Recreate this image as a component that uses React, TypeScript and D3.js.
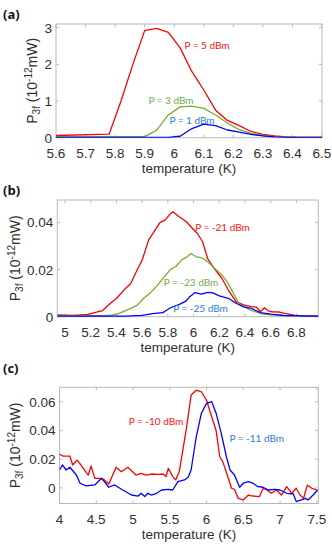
import React from "react";
import * as d3 from "d3";

// ---------- Panel (a) ----------
const aXTicks = [5.6, 5.7, 5.8, 5.9, 6.0, 6.1, 6.2, 6.3, 6.4, 6.5];
const aYTicks = [0, 1, 2, 3];
const aRedT = [5.6, 5.78, 5.82, 5.86, 5.9, 5.94, 5.98, 6.02, 6.06, 6.1, 6.14, 6.18, 6.22, 6.26, 6.3, 6.34, 6.38, 6.42, 6.46, 6.5];
const aRedP = [0.06, 0.1, 1.0, 2.0, 2.92, 2.98, 2.87, 2.45, 1.8, 1.3, 0.75, 0.47, 0.33, 0.17, 0.09, 0.05, 0.02, 0.01, 0.01, 0.01];
const aGreenT = [5.6, 5.9, 5.94, 5.98, 6.02, 6.06, 6.1, 6.14, 6.18, 6.22, 6.26, 6.3, 6.34, 6.38, 6.42, 6.5];
const aGreenP = [0.03, 0.03, 0.2, 0.62, 0.84, 0.86, 0.8, 0.62, 0.4, 0.22, 0.12, 0.06, 0.03, 0.02, 0.01, 0.01];
const aBlueT = [5.6, 5.98, 6.02, 6.06, 6.1, 6.14, 6.18, 6.22, 6.26, 6.3, 6.34, 6.38, 6.42, 6.5];
const aBlueP = [0.01, 0.01, 0.04, 0.25, 0.37, 0.33, 0.21, 0.15, 0.09, 0.05, 0.02, 0.01, 0.01, 0.01];

// ---------- Panel (b) ----------
const bXTicks = [5, 5.2, 5.4, 5.6, 5.8, 6.0, 6.2, 6.4, 6.6, 6.8];
const bYTicks = [0, 0.02, 0.04];
const bRedT = [4.94, 5.07, 5.18, 5.26, 5.29, 5.36, 5.4, 5.47, 5.51, 5.56, 5.6, 5.65, 5.7, 5.74, 5.78, 5.82, 5.84, 5.88, 5.94, 5.99, 6.03, 6.07, 6.11, 6.16, 6.22, 6.27, 6.33, 6.39, 6.45, 6.49, 6.52, 6.55, 6.58, 6.61, 6.66, 6.7, 6.78, 6.85, 6.97];
const bRedP = [0.0008, 0.0006, 0.001, 0.0022, 0.0025, 0.006, 0.0077, 0.012, 0.014, 0.0197, 0.024, 0.0325, 0.0367, 0.04, 0.0411, 0.0437, 0.0445, 0.0427, 0.0405, 0.0375, 0.0353, 0.0318, 0.0245, 0.0205, 0.0163, 0.0113, 0.0064, 0.005, 0.0043, 0.004, 0.0021, 0.0038, 0.0025, 0.0021, 0.002, 0.0015, 0.0007, 0.0003, 0.0002];
const bGreenT = [4.94, 5.2, 5.34, 5.41, 5.49, 5.56, 5.61, 5.66, 5.72, 5.77, 5.82, 5.86, 5.91, 5.95, 5.98, 6.02, 6.06, 6.11, 6.15, 6.22, 6.27, 6.31, 6.35, 6.44, 6.54, 6.7, 6.97];
const bGreenP = [0.0003, 0.0003, 0.0005, 0.0012, 0.003, 0.0048, 0.0077, 0.0099, 0.0134, 0.0167, 0.0201, 0.0212, 0.0242, 0.0254, 0.0268, 0.0254, 0.0251, 0.0233, 0.0212, 0.0177, 0.0141, 0.0099, 0.0057, 0.0028, 0.0011, 0.0005, 0.0002];
const bBlueT = [4.94, 5.3, 5.47, 5.6, 5.68, 5.76, 5.82, 5.89, 5.94, 5.97, 6.01, 6.06, 6.11, 6.15, 6.2, 6.27, 6.33, 6.39, 6.45, 6.52, 6.6, 6.7, 6.97];
const bBlueP = [0.0002, 0.0002, 0.0002, 0.0006, 0.0013, 0.0017, 0.0038, 0.0052, 0.0066, 0.0085, 0.0102, 0.0096, 0.0103, 0.0101, 0.0088, 0.0078, 0.0057, 0.0042, 0.0035, 0.0017, 0.0011, 0.0005, 0.0002];

// ---------- Panel (c) ----------
const cXTicks = [4, 4.5, 5, 5.5, 6, 6.5, 7, 7.5];
const cYTicks = [0, 0.02, 0.04, 0.06];
const cRedT = [4.0, 4.045, 4.14, 4.18, 4.24, 4.3, 4.39, 4.43, 4.48, 4.57, 4.61, 4.67, 4.77, 4.84, 4.93, 5.04, 5.11, 5.18, 5.25, 5.34, 5.41, 5.45, 5.48, 5.54, 5.58, 5.63, 5.73, 5.79, 5.86, 5.93, 6.0, 6.07, 6.13, 6.18, 6.22, 6.29, 6.34, 6.38, 6.43, 6.5, 6.57, 6.63, 6.72, 6.77, 6.82, 6.88, 6.95, 7.02, 7.09, 7.16, 7.22, 7.27, 7.32, 7.37, 7.43, 7.5];
const cRedP = [0.0236, 0.0222, 0.0222, 0.016, 0.0194, 0.0153, 0.009, 0.0153, 0.0067, 0.0067, 0.0056, 0.0028, 0.0144, 0.0113, 0.0144, 0.009, 0.0102, 0.009, 0.0097, 0.0095, 0.0097, 0.0079, 0.0137, 0.0079, 0.0056, 0.0115, 0.0426, 0.0646, 0.068, 0.0669, 0.061, 0.0495, 0.04, 0.0217, 0.0183, 0.0078, -0.0002, -0.0009, -0.0072, -0.0083, -0.0049, -0.0056, -0.006, -0.0002, -0.0014, -0.0037, -0.0014, -0.0049, 0.0009, -0.0037, -0.0002, -0.0049, -0.0072, 0.002, -0.0002, -0.0014];
const cBlueT = [4.0, 4.04, 4.09, 4.14, 4.23, 4.28, 4.36, 4.48, 4.57, 4.61, 4.67, 4.75, 4.86, 4.98, 5.07, 5.11, 5.16, 5.2, 5.25, 5.32, 5.39, 5.48, 5.54, 5.61, 5.7, 5.75, 5.79, 5.86, 5.93, 6.0, 6.07, 6.13, 6.2, 6.27, 6.32, 6.38, 6.45, 6.5, 6.57, 6.63, 6.7, 6.77, 6.84, 6.93, 7.0, 7.09, 7.18, 7.22, 7.29, 7.34, 7.38, 7.45, 7.51];
const cBlueP = [0.0125, 0.016, 0.0125, 0.0144, 0.009, 0.0033, 0.0014, 0.0021, 0.0067, 0.0044, 0.0005, 0.0021, -0.0014, -0.0049, -0.0056, -0.0037, -0.006, -0.0037, -0.0049, -0.0037, -0.0014, -0.001, -0.0014, 0.0044, 0.0056, 0.0075, 0.0125, 0.0356, 0.052, 0.0588, 0.06, 0.052, 0.038, 0.0217, 0.0125, 0.009, 0.0005, 0.0033, 0.0044, 0.0033, 0.0009, 0.0005, -0.0014, -0.001, -0.0014, -0.0037, -0.0042, -0.0095, -0.0083, -0.0072, -0.0083, -0.0049, -0.0014];

const RED = "#ff0000";
const GREEN = "#77ac30";
const BLUE = "#0000ff";
const RED_LBL = "#ff1010";
const GREEN_LBL = "#70ad47";
const BLUE_LBL = "#2a7ad5";

const AXIS_FONT = "'Liberation Sans', Arial, sans-serif";
const LBL_FONT = "Lato, 'Open Sans', sans-serif";
const TXT = "#303030";
const BOX = "#b8b8b8";

type Series = { t: number[]; p: number[]; color: string };
type Lbl = { text: string; x: number; y: number; color: string };

type PanelProps = {
  tag: string;
  tagY: number;
  left: number;
  right: number;
  top: number;
  bottom: number;
  xDomain: [number, number];
  yDomain: [number, number];
  xTicks: number[];
  yTicks: number[];
  series: Series[];
  labels: Lbl[];
  yLabelX: number;
};

function fmt(v: number) {
  return String(+v.toFixed(3));
}

function Panel(p: PanelProps) {
  const x = d3.scaleLinear().domain(p.xDomain).range([p.left, p.right]);
  const y = d3.scaleLinear().domain(p.yDomain).range([p.bottom, p.top]);
  const tl = 3;
  const cy = (p.top + p.bottom) / 2;
  const clipId = "clip-" + p.tag;
  return (
    <g>
      <text x={3} y={p.tagY} fontFamily="'Open Sans', Lato, sans-serif" fontWeight="bold" fontSize={13} fill="#111">
        {"(" + p.tag + ")"}
      </text>
      <defs>
        <clipPath id={clipId}>
          <rect x={p.left} y={p.top} width={p.right - p.left} height={p.bottom - p.top} />
        </clipPath>
      </defs>
      <rect x={p.left} y={p.top} width={p.right - p.left} height={p.bottom - p.top} fill="white" stroke={BOX} strokeWidth={1} />
      {p.xTicks.map((t) => (
        <g key={"x" + t}>
          <line x1={x(t)} x2={x(t)} y1={p.bottom} y2={p.bottom - tl} stroke={BOX} />
          <line x1={x(t)} x2={x(t)} y1={p.top} y2={p.top + tl} stroke={BOX} />
          <text x={x(t)} y={p.bottom + 20} textAnchor="middle" fontFamily={AXIS_FONT} fontSize={13.5} fill={TXT}>
            {fmt(t)}
          </text>
        </g>
      ))}
      {p.yTicks.map((t) => (
        <g key={"y" + t}>
          <line x1={p.left} x2={p.left + tl} y1={y(t)} y2={y(t)} stroke={BOX} />
          <line x1={p.right} x2={p.right - tl} y1={y(t)} y2={y(t)} stroke={BOX} />
          <text x={p.left - 4} y={y(t) + 5} textAnchor="end" fontFamily={AXIS_FONT} fontSize={13.5} fill={TXT}>
            {fmt(t)}
          </text>
        </g>
      ))}
      <g clipPath={`url(#${clipId})`}>
        {p.series.map((s, i) => {
          const pts = s.t.map((t, k) => [t, s.p[k]] as [number, number]);
          const line = d3
            .line<[number, number]>()
            .x((d) => x(d[0]))
            .y((d) => y(d[1]));
          return <path key={i} d={line(pts) || ""} fill="none" stroke={s.color} strokeWidth={1.3} strokeLinejoin="round" />;
        })}
      </g>
      {p.labels.map((l, i) => (
        <text key={i} x={l.x} y={l.y + 3.5} textAnchor="middle" fontFamily={LBL_FONT} fontSize={10} fill={l.color}>
          {l.text}
        </text>
      ))}
      <text x={(p.left + p.right) / 2} y={p.bottom + 35} textAnchor="middle" fontFamily={AXIS_FONT} fontSize={13.5} fill={TXT}>
        temperature (K)
      </text>
      <text
        transform={`translate(${p.yLabelX + 5},${cy}) rotate(-90)`}
        textAnchor="middle"
        fontFamily={AXIS_FONT}
        fontSize={14}
        fill={TXT}
      >
        <tspan>P</tspan>
        <tspan fontSize={10} dy={3}>3f</tspan>
        <tspan dy={-3}> (10</tspan>
        <tspan fontSize={10} dy={-5}>-12</tspan>
        <tspan dy={5}>mW)</tspan>
      </text>
    </g>
  );
}

export default function App() {
  return (
    <svg
      width={332}
      height={548}
      style={{ position: "absolute", left: 0, top: 0, display: "block", background: "white" }}
    >
      <rect width={332} height={548} fill="white" />
      <Panel
        tag="a"
        tagY={19}
        left={56}
        right={322}
        top={24}
        bottom={137.7}
        xDomain={[5.6, 6.5]}
        yDomain={[0, 3.1]}
        xTicks={aXTicks}
        yTicks={aYTicks}
        series={[
          { t: aRedT, p: aRedP, color: RED },
          { t: aGreenT, p: aGreenP, color: GREEN },
          { t: aBlueT, p: aBlueP, color: BLUE },
        ]}
        labels={[
          { text: "P = 5 dBm", x: 207, y: 45, color: RED_LBL },
          { text: "P = 3 dBm", x: 171, y: 100, color: GREEN_LBL },
          { text: "P = 1 dBm", x: 192, y: 120, color: BLUE_LBL },
        ]}
        yLabelX={32}
      />
      <Panel
        tag="b"
        tagY={195}
        left={57.3}
        right={318.3}
        top={200}
        bottom={316.7}
        xDomain={[4.94, 6.97]}
        yDomain={[0, 0.0495]}
        xTicks={bXTicks}
        yTicks={bYTicks}
        series={[
          { t: bRedT, p: bRedP, color: RED },
          { t: bGreenT, p: bGreenP, color: GREEN },
          { t: bBlueT, p: bBlueP, color: BLUE },
        ]}
        labels={[
          { text: "P = -21 dBm", x: 222.5, y: 227, color: RED_LBL },
          { text: "P = -23 dBm", x: 191, y: 282.5, color: GREEN_LBL },
          { text: "P = -25 dBm", x: 200.5, y: 308, color: BLUE_LBL },
        ]}
        yLabelX={15}
      />
      <Panel
        tag="c"
        tagY={373}
        left={59.5}
        right={318.3}
        top={387.3}
        bottom={503.5}
        xDomain={[4, 7.52]}
        yDomain={[-0.0108, 0.07]}
        xTicks={cXTicks}
        yTicks={cYTicks}
        series={[
          { t: cRedT, p: cRedP, color: RED },
          { t: cBlueT, p: cBlueP, color: BLUE },
        ]}
        labels={[
          { text: "P = -10 dBm", x: 156, y: 421.7, color: RED_LBL },
          { text: "P = -11 dBm", x: 256.7, y: 438.3, color: BLUE_LBL },
        ]}
        yLabelX={15}
      />
    </svg>
  );
}
